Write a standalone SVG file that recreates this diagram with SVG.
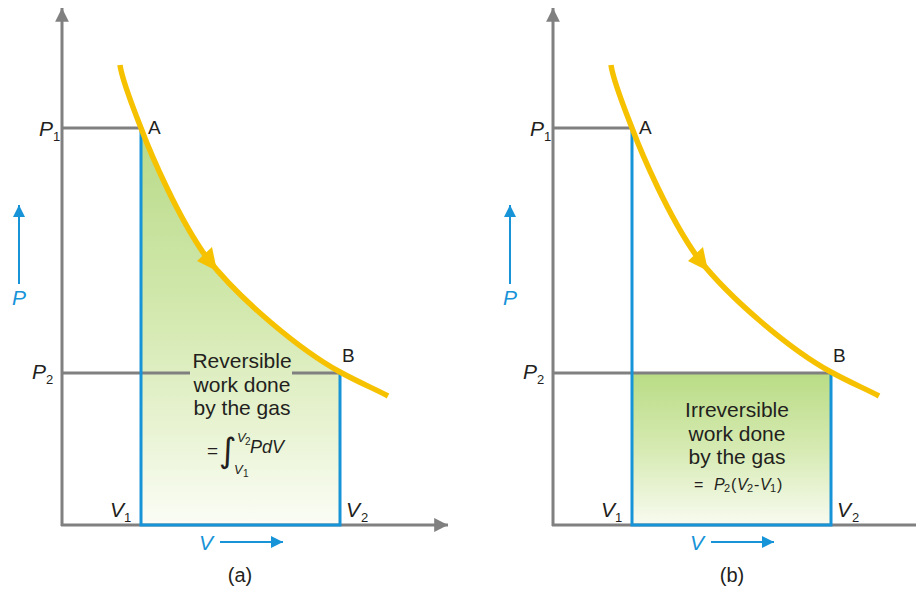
<svg xmlns="http://www.w3.org/2000/svg" width="916" height="589" viewBox="0 0 916 589">
<defs>
<linearGradient id="gA" x1="0" y1="128" x2="0" y2="525" gradientUnits="userSpaceOnUse">
<stop offset="0" stop-color="#b8da88"/>
<stop offset="0.45" stop-color="#d2e8ad"/>
<stop offset="0.75" stop-color="#e8f3d2"/>
<stop offset="1" stop-color="#fbfdf6"/>
</linearGradient>
<linearGradient id="gB" x1="0" y1="373" x2="0" y2="525" gradientUnits="userSpaceOnUse">
<stop offset="0" stop-color="#b9dc85"/>
<stop offset="0.5" stop-color="#d6eab2"/>
<stop offset="1" stop-color="#f8fbf0"/>
</linearGradient>
<marker id="axArrow" viewBox="0 0 10 10" refX="10" refY="5" markerWidth="4.6" markerHeight="4.6" orient="auto" markerUnits="strokeWidth">
<path d="M0,0 L10,5 L0,10 Z" fill="#808080"/>
</marker>
<marker id="blArrow" viewBox="0 0 10 10" refX="10" refY="5" markerWidth="6" markerHeight="6" orient="auto" markerUnits="strokeWidth">
<path d="M0,0 L10,5 L0,10 Z" fill="#1793d8"/>
</marker>
</defs>
<style>
.axis{stroke:#808080;stroke-width:3;fill:none}
.grey{stroke:#808080;stroke-width:3;fill:none}
.blue{stroke:#1793d8;stroke-width:3;fill:none}
.bluearr{stroke:#1793d8;stroke-width:2;fill:none}
.curve{stroke:#f6c200;stroke-width:5.5;fill:none;stroke-linecap:butt}
.head{fill:#f6c200}
.t{font-family:"Liberation Sans",Arial,sans-serif;fill:#231f20}
.lbl{font-size:19px}
.big{font-size:21px;text-anchor:middle}
.sub{font-size:13px}
.bt{fill:#1793d8;font-family:"Liberation Sans",Arial,sans-serif;font-style:italic;font-size:21px}
</style>

<g id="panel-a">
<path id="area-a" d="M141,128 C150,152 178,218 207,258 C240,300 300,350 340,372 L340,525 L141,525 Z" fill="url(#gA)"/>
<g id="axes-a">
<line class="axis" x1="62" y1="526" x2="62" y2="8" marker-end="url(#axArrow)"/>
<line class="axis" x1="61" y1="525" x2="448" y2="525" marker-end="url(#axArrow)"/>
</g>
<g id="guides-a">
<line class="grey" x1="62" y1="128" x2="141" y2="128"/>
<line class="grey" x1="62" y1="373" x2="190" y2="373"/>
<line class="grey" x1="292" y1="373" x2="340" y2="373"/>
<path class="blue" d="M141,128 L141,525 L340,525 L340,373"/>
</g>
<g id="curve-a">
<path class="curve" d="M120,65 C122,80 132,105 141,128 C150,152 178,218 207,258 C240,300 300,350 340,372 C360,383 375,389 388,396"/>
<polygon class="head" points="212,247 197,261 217,271"/>
</g>
<g id="labels-a" class="t">
<text class="lbl" x="148" y="134">A</text>
<text class="lbl" x="342" y="362">B</text>
<text x="39" y="136" font-size="21" font-style="italic">P</text>
<text x="53" y="141" class="sub">1</text>
<text x="32" y="379" font-size="21" font-style="italic">P</text>
<text x="46" y="384" class="sub">2</text>
<text x="110" y="517" font-size="21" font-style="italic">V</text>
<text x="124" y="522" class="sub">1</text>
<text x="346" y="517" font-size="21" font-style="italic">V</text>
<text x="361" y="522" class="sub">2</text>
<text class="big" x="242" y="368">Reversible</text>
<text class="big" x="242" y="392">work done</text>
<text class="big" x="242" y="415">by the gas</text>
<text x="207" y="457" font-size="19">=</text>
<text x="219" y="462" font-size="34" font-family="DejaVu Sans, sans-serif">∫</text>
<text x="237" y="442" font-size="13" font-style="italic">V</text>
<text x="245" y="445" font-size="10">2</text>
<text x="250" y="453" font-size="18" font-style="italic">PdV</text>
<text x="234" y="474" font-size="13" font-style="italic">V</text>
<text x="243" y="477" font-size="10">1</text>
<text x="240" y="582" font-size="20" text-anchor="middle">(a)</text>
</g>
<g id="dir-a">
<line class="bluearr" x1="19" y1="284" x2="19" y2="205" marker-end="url(#blArrow)"/>
<text class="bt" x="12" y="305">P</text>
<text class="bt" x="199" y="550">V</text>
<line class="bluearr" x1="220" y1="542" x2="283" y2="542" marker-end="url(#blArrow)"/>
</g>
</g>

<g id="panel-b">
<rect id="area-b" x="632" y="373" width="199" height="152" fill="url(#gB)"/>
<g id="axes-b">
<line class="axis" x1="553" y1="526" x2="553" y2="8" marker-end="url(#axArrow)"/>
<line class="axis" x1="552" y1="525" x2="939" y2="525" marker-end="url(#axArrow)"/>
</g>
<g id="guides-b">
<line class="grey" x1="553" y1="128" x2="632" y2="128"/>
<line class="grey" x1="553" y1="373" x2="831" y2="373"/>
<path class="blue" d="M632,128 L632,525 L831,525 L831,373"/>
</g>
<g id="curve-b">
<path class="curve" d="M611,65 C613,80 623,105 632,128 C641,152 669,218 698,258 C731,300 791,350 831,372 C851,383 866,389 879,396"/>
<polygon class="head" points="703,247 688,261 708,271"/>
</g>
<g id="labels-b" class="t">
<text class="lbl" x="639" y="134">A</text>
<text class="lbl" x="833" y="362">B</text>
<text x="530" y="136" font-size="21" font-style="italic">P</text>
<text x="544" y="141" class="sub">1</text>
<text x="523" y="379" font-size="21" font-style="italic">P</text>
<text x="537" y="384" class="sub">2</text>
<text x="601" y="517" font-size="21" font-style="italic">V</text>
<text x="615" y="522" class="sub">1</text>
<text x="837" y="517" font-size="21" font-style="italic">V</text>
<text x="852" y="522" class="sub">2</text>
<text class="big" x="737" y="417">Irreversible</text>
<text class="big" x="737" y="441">work done</text>
<text class="big" x="737" y="464">by the gas</text>
<text x="694" y="490" font-size="16">=</text>
<text x="714" y="490" font-size="16" font-style="italic">P</text>
<text x="724" y="492" font-size="11">2</text>
<text x="731" y="490" font-size="16">(</text>
<text x="737" y="490" font-size="16" font-style="italic">V</text>
<text x="747" y="492" font-size="11">2</text>
<text x="754" y="490" font-size="16">-</text>
<text x="760" y="490" font-size="16" font-style="italic">V</text>
<text x="770" y="492" font-size="11">1</text>
<text x="777" y="490" font-size="16">)</text>
<text x="732" y="582" font-size="20" text-anchor="middle">(b)</text>
</g>
<g id="dir-b">
<line class="bluearr" x1="510" y1="284" x2="510" y2="205" marker-end="url(#blArrow)"/>
<text class="bt" x="503" y="305">P</text>
<text class="bt" x="690" y="550">V</text>
<line class="bluearr" x1="711" y1="542" x2="774" y2="542" marker-end="url(#blArrow)"/>
</g>
</g>
</svg>
